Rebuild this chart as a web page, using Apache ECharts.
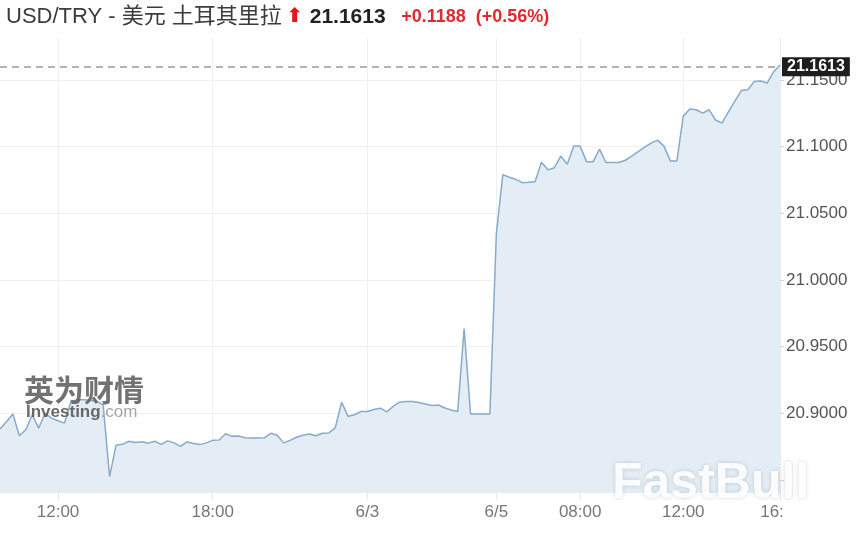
<!DOCTYPE html>
<html>
<head>
<meta charset="utf-8">
<script src="https://cdn.jsdelivr.net/npm/echarts@6/dist/echarts.min.js"></script>
<style>
  html, body { margin: 0; padding: 0; background: #fff; }
  #chart { width: 865px; height: 545px; }
</style>
</head>
<body>
<div id="chart"></div>
<script>
// 交易时段（每 15 分钟一个点）
const sessions = [
  ['6/2', '09:45', '23:45'],
  ['6/3', '00:00', '04:45'],
  ['6/5', '04:45', '15:45']
]

// 收盘价
const prices = [
  20.8883, 20.8936, 20.8994, 20.8831, 20.8876, 20.8989, 20.8889, 20.9000, 20.8964, 20.8944,
  20.8926, 20.9089, 20.9102, 20.9102, 20.9098, 20.9089, 20.9064, 20.8525, 20.8760, 20.8767,
  20.8790, 20.8780, 20.8786, 20.8776, 20.8790, 20.8767, 20.8793, 20.8778, 20.8752, 20.8786,
  20.8774, 20.8765, 20.8778, 20.8797, 20.8800, 20.8846, 20.8827, 20.8829, 20.8816, 20.8814,
  20.8814, 20.8816, 20.8850, 20.8835, 20.8778, 20.8797, 20.8820, 20.8835, 20.8844, 20.8831,
  20.8850, 20.8852, 20.8891, 20.9083, 20.8977, 20.8989, 20.9013, 20.9014, 20.9028, 20.9038,
  20.9011, 20.9053, 20.9083, 20.9089, 20.9089, 20.9081, 20.9070, 20.9058, 20.9062, 20.9040,
  20.9024, 20.9013, 20.9635, 20.8994, 20.8994, 20.8994, 20.8994, 21.0350, 21.0790, 21.0770,
  21.0755, 21.0730, 21.0733, 21.0737, 21.0883, 21.0826, 21.0842, 21.0929, 21.0868, 21.1004,
  21.1004, 21.0886, 21.0886, 21.0981, 21.0881, 21.0881, 21.0881, 21.0898, 21.0929, 21.0962,
  21.0996, 21.1026, 21.1049, 21.1004, 21.0893, 21.0893, 21.1229, 21.1282, 21.1277, 21.1252,
  21.1277, 21.1200, 21.1177, 21.1260, 21.1342, 21.1421, 21.1427, 21.1489, 21.1492, 21.1477,
  21.1560, 21.1613
]

// x 轴刻度
const tickCats = ['6/2 12:00', '6/2 18:00', '6/3 00:00', '6/5 04:45', '6/5 08:00', '6/5 12:00', '6/5 15:45']
const tickTexts = ['12:00', '18:00', '6/3', '6/5', '08:00', '12:00', '16:']

const lastPrice = 21.1613

const pad = (n) => (n < 10 ? '0' + n : '' + n)
const toMin = (s) => Number(s.slice(0, 2)) * 60 + Number(s.slice(3))

let times = []
sessions.forEach((s) => {
  for (let m = toMin(s[1]); m <= toMin(s[2]); m += 15) {
    times.push(s[0] + ' ' + pad(Math.floor(m / 60)) + ':' + pad(m % 60))
  }
})

const showTick = (index, value) => tickCats.indexOf(value) >= 0

let myChart = echarts.init(document.getElementById('chart'))

let option = {
  animation: false,
  backgroundColor: '#fff',
  title: {
    left: 1,
    top: -2,
    text: '{a|USD/TRY - 美元 土耳其里拉}{s| }{up|⬆}{s2| }{p|21.1613}{s3|  }{c|+0.1188  (+0.56%)}',
    textStyle: {
      fontWeight: 'normal',
      rich: {
        a: { fontSize: 22, color: '#3c3c3c', fontWeight: 'normal', fontFamily: '"Liberation Sans", "Noto Sans CJK SC", sans-serif' },
        s: { fontSize: 16, fontWeight: 'normal' },
        s2: { fontSize: 24, fontWeight: 'normal' },
        s3: { fontSize: 28, fontWeight: 'normal' },
        up: { fontSize: 20, color: '#e3161b', fontWeight: 'bold', fontFamily: '"DejaVu Sans"' },
        p: { fontSize: 21, color: '#222', fontWeight: 'bold', fontFamily: '"Liberation Sans", sans-serif' },
        c: { fontSize: 18, color: '#e02a2f', fontWeight: 'bold', fontFamily: '"Liberation Sans", sans-serif' }
      }
    }
  },
  grid: {
    left: 0,
    right: 85,
    top: 38,
    bottom: 52
  },
  xAxis: {
    type: 'category',
    boundaryGap: false,
    data: times,
    axisLine: { show: false },
    axisTick: {
      show: true,
      interval: showTick,
      length: 7,
      lineStyle: { color: '#e6e8eb' }
    },
    splitLine: {
      show: true,
      interval: showTick,
      lineStyle: { color: '#eef0f3' }
    },
    axisLabel: {
      interval: showTick,
      margin: 11,
      fontSize: 17,
      color: '#777',
      fontFamily: '"Liberation Sans", sans-serif',
      formatter: function (value) {
        let i = tickCats.indexOf(value)
        if (i === tickCats.length - 1) return '{e|' + tickTexts[i] + '}'
        return i >= 0 ? tickTexts[i] : ''
      },
      rich: {
        e: { fontSize: 17, color: '#777', padding: [0, 16, 0, 0] }
      }
    }
  },
  yAxis: {
    type: 'value',
    position: 'right',
    min: 20.8402,
    max: 21.1815,
    minInterval: 0.05,
    maxInterval: 0.05,
    axisLine: { show: true, lineStyle: { color: '#e8eaed' } },
    axisTick: { show: true, length: 4, lineStyle: { color: '#cfd3d8' } },
    splitLine: {
      show: true,
      showMinLine: false,
      showMaxLine: false,
      lineStyle: { color: '#eef0f3' }
    },
    axisLabel: {
      margin: 6,
      fontSize: 17,
      color: '#555',
      fontFamily: '"Liberation Sans", sans-serif',
      showMinLabel: false,
      showMaxLabel: false,
      formatter: function (v) {
        if (v < 20.899 || v > 21.151) return ''
        return v.toFixed(4)
      }
    }
  },
  series: [
    {
      type: 'line',
      data: prices,
      symbol: 'none',
      lineStyle: { color: '#86abcb', width: 1.5 },
      areaStyle: { color: '#e4edf6', opacity: 1 },
      markLine: {
        silent: true,
        symbol: ['none', 'none'],
        lineStyle: { color: '#999', width: 1.5, type: [7, 5] },
        label: {
          position: 'end',
          distance: 2,
          formatter: lastPrice.toFixed(4),
          backgroundColor: '#1e1e1e',
          color: '#fff',
          fontWeight: 'bold',
          fontSize: 16,
          fontFamily: '"Liberation Sans", sans-serif',
          padding: [2, 5, 1, 5]
        },
        data: [{ yAxis: lastPrice }]
      }
    }
  ],
  graphic: [
    {
      type: 'text',
      left: 24,
      top: 375,
      z: 10,
      style: {
        text: '英为财情',
        fontSize: 30,
        fontWeight: 'bold',
        fill: 'rgba(95,95,95,0.88)',
        fontFamily: '"Noto Sans CJK SC", sans-serif'
      }
    },
    {
      type: 'text',
      left: 26,
      top: 404,
      z: 10,
      style: {
        text: '{b|Investing}{c|.com}',
        rich: {
          b: { fontSize: 17, fontWeight: 'bold', fill: 'rgba(85,85,85,0.88)', fontFamily: '"Liberation Sans", sans-serif' },
          c: { fontSize: 17, fill: 'rgba(150,150,150,0.85)', fontFamily: '"Liberation Sans", sans-serif' }
        }
      }
    },
    {
      type: 'text',
      left: 612,
      top: 459,
      z: 10,
      style: {
        text: 'FastBull',
        fontSize: 50,
        fontWeight: 'bold',
        fill: 'rgba(255,255,255,0.92)',
        fontFamily: '"Liberation Sans", sans-serif',
        textShadowColor: 'rgba(0,0,0,0.18)',
        textShadowBlur: 4
      }
    }
  ]
}

option && myChart.setOption(option)
</script>
</body>
</html>
